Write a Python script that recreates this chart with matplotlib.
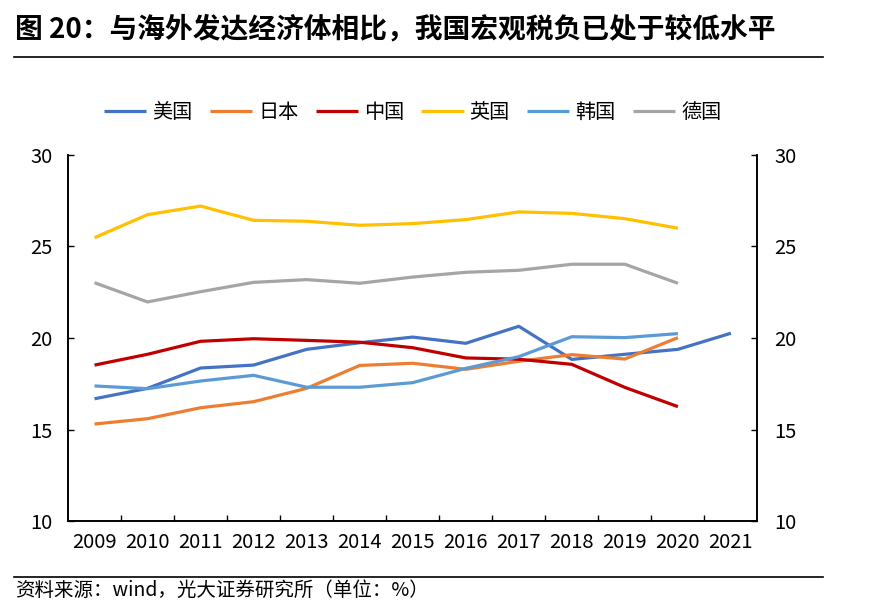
import matplotlib
matplotlib.use("Agg")
import matplotlib.pyplot as plt
import numpy as np

plt.rcParams['font.family'] = ['Noto Sans CJK SC', 'DejaVu Sans']

years = ["2009", "2010", "2011", "2012", "2013", "2014", "2015",
         "2016", "2017", "2018", "2019", "2020", "2021"]

usa = [16.68, 17.25, 18.36, 18.52, 19.38, 19.74, 20.05, 19.71, 20.64, 18.83, 19.11, 19.38, 20.26]
japan = [15.30, 15.59, 16.19, 16.52, 17.25, 18.50, 18.62, 18.29, 18.73, 19.09, 18.85, 20.02]
china = [18.52, 19.11, 19.82, 19.96, 19.87, 19.77, 19.47, 18.91, 18.84, 18.56, 17.30, 16.25]
uk = [25.48, 26.74, 27.21, 26.43, 26.38, 26.16, 26.25, 26.47, 26.89, 26.81, 26.52, 26.00]
korea = [17.38, 17.23, 17.65, 17.96, 17.31, 17.31, 17.56, 18.34, 18.98, 20.07, 20.02, 20.24]
germany = [23.02, 21.97, 22.53, 23.04, 23.19, 22.99, 23.33, 23.59, 23.70, 24.03, 24.03, 22.99]

series = [
    ("美国", usa, "#4472C4"),
    ("日本", japan, "#ED7D31"),
    ("中国", china, "#C00000"),
    ("英国", uk, "#FFC000"),
    ("韩国", korea, "#5B9BD5"),
    ("德国", germany, "#A5A5A5"),
]

fig = plt.figure(figsize=(8.82, 6.16), dpi=100)
ax = fig.add_axes([0.0771, 0.1542, 0.7817, 0.5942])

for name, vals, color in series:
    ax.plot(np.arange(len(vals)), vals, color=color, lw=2.3, label=name,
            solid_capstyle='butt')

ax.set_xlim(-0.5, len(years) - 0.5)
ax.set_ylim(10, 30)
ax.set_yticks([10, 15, 20, 25, 30])
ax.set_xticks(np.arange(len(years)))
ax.set_xticklabels(years)
ax.set_xticks(np.arange(0.5, len(years) - 1), minor=True)
ax.tick_params(axis='x', which='major', length=0, pad=8, labelsize=14.5)
ax.tick_params(axis='x', which='minor', direction='in', length=4, width=1)
ax.tick_params(axis='y', direction='in', length=4, width=1, pad=11, labelsize=14.5)

ax2 = ax.twinx()
ax2.set_ylim(10, 30)
ax2.set_yticks([10, 15, 20, 25, 30])
ax2.tick_params(axis='y', direction='in', length=4, width=1, pad=12, labelsize=14.5)

for a in (ax, ax2):
    a.spines['top'].set_visible(False)
    for s in ('left', 'right', 'bottom'):
        a.spines[s].set_linewidth(1.2)

ax.legend(loc='lower center', bbox_to_anchor=(0.5, 1.037), ncol=6, frameon=False,
          fontsize=14.5, handlelength=2.1, handletextpad=0.3, columnspacing=0.85)

fig.text(0.017, 0.952, "图 20：与海外发达经济体相比，我国宏观税负已处于较低水平",
         fontsize=20, fontweight='bold', va='center', ha='left')
fig.add_artist(plt.Line2D([0.016, 0.933], [0.907, 0.907], color='black', lw=1.2))
fig.add_artist(plt.Line2D([0.016, 0.933], [0.063, 0.063], color='black', lw=1.2))
fig.text(0.017, 0.041, "资料来源：wind，光大证券研究所（单位：%）",
         fontsize=14, va='center', ha='left')

fig.savefig("out.png", dpi=100)
